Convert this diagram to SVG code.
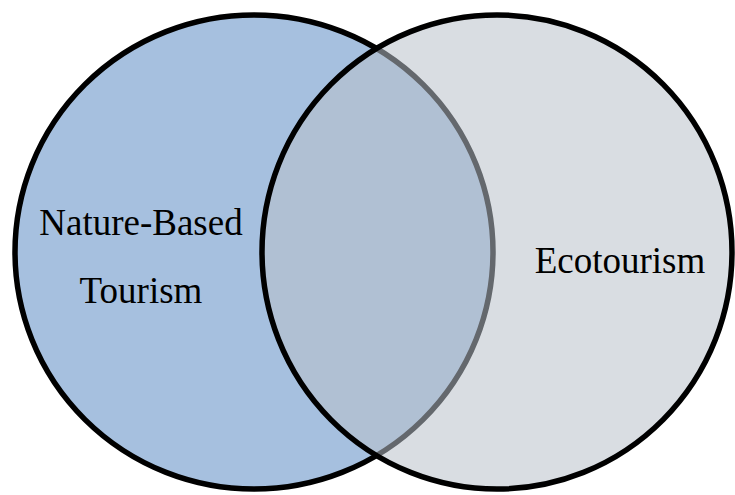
<svg xmlns="http://www.w3.org/2000/svg" width="735" height="495" viewBox="0 0 735 495">
<style>
.lbl{font-family:"Liberation Serif","Times New Roman",serif;font-size:37px;fill:#000;text-anchor:middle}
.set{stroke:#000;stroke-width:5.5}
</style>
<rect width="735" height="495" fill="#fff"/>
<g id="nature-based">
<ellipse class="set" cx="254" cy="252" rx="239" ry="237" fill="#A6C0DF"/>
</g>
<g id="ecotourism">
<ellipse cx="497" cy="252" rx="235" ry="237" fill="rgb(185,192,201)" fill-opacity="0.54" stroke="#000" stroke-width="5.5"/>
</g>
<g id="labels">
<text class="lbl" x="141" y="235">Nature-Based</text>
<text class="lbl" x="141" y="303">Tourism</text>
<text class="lbl" x="620" y="273">Ecotourism</text>
</g>
<g id="connectors"/>
</svg>
